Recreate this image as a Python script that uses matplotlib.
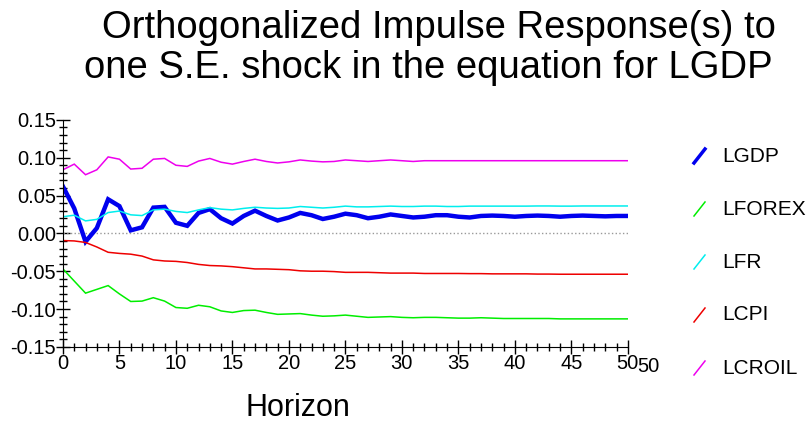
import numpy as np
import matplotlib
matplotlib.use('Agg')
import matplotlib.pyplot as plt
from matplotlib.lines import Line2D
from matplotlib.ticker import MultipleLocator, FormatStrFormatter

plt.rcParams['font.family'] = ['Liberation Sans', 'DejaVu Sans']

horizon = np.arange(0, 51)

lgdp = [0.062, 0.033, -0.011, 0.007, 0.045, 0.036, 0.004, 0.008, 0.034, 0.035,
        0.014, 0.010, 0.027, 0.032, 0.020, 0.013, 0.023, 0.030, 0.023, 0.017,
        0.021, 0.027, 0.024, 0.019, 0.022, 0.026, 0.024, 0.020, 0.022, 0.025,
        0.023, 0.021, 0.022, 0.024, 0.024, 0.022, 0.021, 0.023, 0.0235, 0.023,
        0.022, 0.023, 0.0235, 0.023, 0.022, 0.023, 0.0235, 0.023, 0.0225, 0.023,
        0.023]
lforex = [-0.047, -0.063, -0.079, -0.074, -0.069, -0.080, -0.090, -0.0895, -0.085, -0.0895,
          -0.098, -0.099, -0.095, -0.097, -0.1025, -0.1045, -0.102, -0.1015, -0.1045, -0.107,
          -0.1065, -0.106, -0.108, -0.1095, -0.109, -0.108, -0.1095, -0.111, -0.1105, -0.110,
          -0.111, -0.1115, -0.111, -0.111, -0.1115, -0.112, -0.112, -0.1115, -0.112, -0.1125,
          -0.1125, -0.1125, -0.1125, -0.1125, -0.113, -0.113, -0.113, -0.113, -0.113, -0.113,
          -0.113]
lfr = [0.022, 0.024, 0.0165, 0.0185, 0.0275, 0.0295, 0.0245, 0.0235, 0.031, 0.032,
       0.029, 0.0275, 0.031, 0.034, 0.032, 0.031, 0.033, 0.0345, 0.0335, 0.033,
       0.0335, 0.0355, 0.0345, 0.0335, 0.0345, 0.036, 0.035, 0.035, 0.0355, 0.036,
       0.0355, 0.0355, 0.036, 0.036, 0.0355, 0.0355, 0.036, 0.036, 0.036, 0.036,
       0.036, 0.036, 0.0362, 0.0362, 0.036, 0.036, 0.0362, 0.0362, 0.0362, 0.0362,
       0.0362]
lcpi = [-0.0095, -0.010, -0.012, -0.018, -0.025, -0.0265, -0.0275, -0.030, -0.035, -0.0365,
        -0.037, -0.0385, -0.041, -0.0425, -0.043, -0.044, -0.0455, -0.047, -0.047, -0.0475,
        -0.048, -0.0495, -0.050, -0.050, -0.0505, -0.0515, -0.0515, -0.0515, -0.052, -0.0525,
        -0.0525, -0.0525, -0.053, -0.053, -0.053, -0.053, -0.0532, -0.0532, -0.0535, -0.0535,
        -0.0535, -0.0535, -0.0538, -0.0538, -0.054, -0.054, -0.054, -0.054, -0.054, -0.054,
        -0.054]
lcroil = [0.084, 0.0915, 0.0775, 0.084, 0.101, 0.098, 0.085, 0.086, 0.098, 0.099,
          0.090, 0.0885, 0.0955, 0.099, 0.094, 0.0915, 0.095, 0.098, 0.095, 0.093,
          0.0945, 0.097, 0.0955, 0.0945, 0.095, 0.097, 0.096, 0.095, 0.096, 0.097,
          0.096, 0.095, 0.096, 0.096, 0.096, 0.096, 0.096, 0.096, 0.096, 0.096,
          0.096, 0.096, 0.096, 0.096, 0.096, 0.096, 0.096, 0.096, 0.096, 0.096,
          0.096]

names = ['LGDP', 'LFOREX', 'LFR', 'LCPI', 'LCROIL']
series = [lgdp, lforex, lfr, lcpi, lcroil]
colors = ['#0000ee', '#00ee00', '#00eeee', '#ee0000', '#ee00ee']
widths = [3.2, 1.1, 1.1, 1.1, 1.1]

fig = plt.figure(figsize=(8.07, 4.22), dpi=100)
ax = fig.add_axes([0.078, 0.178, 0.700, 0.538])

ax.plot([0, 50], [0, 0], color='#999999', linestyle=':', linewidth=1.0)
for s, c, w in zip(series, colors, widths):
    ax.plot(horizon, s, color=c, linewidth=w, solid_joinstyle='miter')

ax.set_xlim(0, 50)
ax.set_ylim(-0.15, 0.15)
ax.xaxis.set_major_locator(MultipleLocator(5))
ax.xaxis.set_minor_locator(MultipleLocator(1))
ax.yaxis.set_major_locator(MultipleLocator(0.05))
ax.yaxis.set_minor_locator(MultipleLocator(0.01))
ax.yaxis.set_major_formatter(FormatStrFormatter('%.2f'))
ax.tick_params(which='major', direction='inout', length=10, width=1, labelsize=14.5, pad=0)
ax.tick_params(which='minor', direction='inout', length=6, width=1)
for sp in ['top', 'right']:
    ax.spines[sp].set_visible(False)

fig.text(298 / 807, 1 - 416 / 422, 'Horizon', fontsize=22, ha='center', va='baseline')

# stray duplicate end label
fig.text(648 / 807, 1 - 372 / 422, '50', fontsize=14.5, ha='center', va='baseline')

fig.text(102 / 807, 1 - 38 / 422, 'Orthogonalized Impulse Response(s) to',
         fontsize=27.5, ha='left', va='baseline')
fig.text(84 / 807, 1 - 78 / 422, 'one S.E. shock in the equation for LGDP',
         fontsize=27.5, ha='left', va='baseline')

# legend with short diagonal strokes
for i, (n, c, w) in enumerate(zip(names, colors, widths)):
    yc = 156 + 53 * i
    fig.add_artist(Line2D([694 / 807, 705 / 807], [1 - (yc + 7) / 422, 1 - (yc - 7) / 422],
                          color=c, linewidth=min(w, 2.5), transform=fig.transFigure))
    fig.text(722 / 807, 1 - yc / 422, n, fontsize=15, ha='left', va='center')

fig.savefig('out.png', dpi=100)
